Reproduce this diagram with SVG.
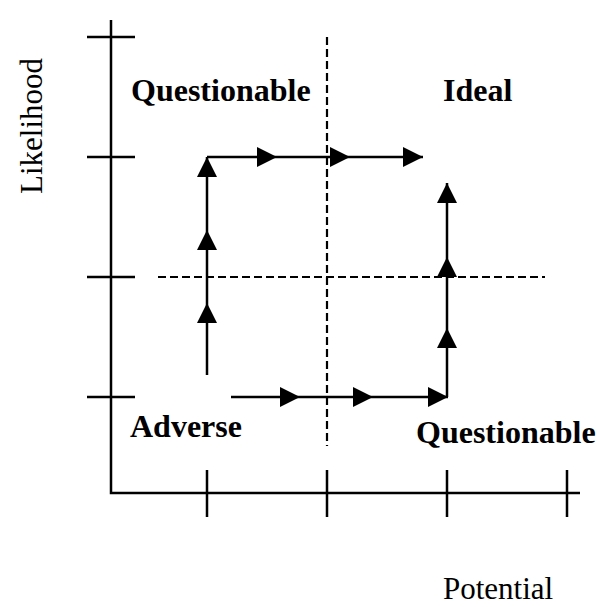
<svg xmlns="http://www.w3.org/2000/svg" width="597" height="607" viewBox="0 0 597 607">
<style>
.ax{stroke:#000;stroke-width:2.5;fill:none}
.dash{stroke:#000;stroke-width:2.2;fill:none;stroke-dasharray:8 4}
.arr{stroke:#000;stroke-width:2.5;fill:none;marker-end:url(#ah)}
.lbl{font-family:"Liberation Serif","Times New Roman",serif;font-size:32px;font-weight:bold;fill:#000}
.ttl{font-family:"Liberation Serif","Times New Roman",serif;font-size:31px;fill:#000}
</style>
<defs>
<marker id="ah" viewBox="0 0 10 10" refX="10" refY="5" markerUnits="userSpaceOnUse" markerWidth="20" markerHeight="20" orient="auto">
<path d="M0,0 L10,5 L0,10 z" fill="#000"/>
</marker>
</defs>
<rect width="597" height="607" fill="#fff"/>
<g id="axes">
<path class="ax" d="M111,20 V493 H580"/>
<path class="ax" d="M87,37 H135 M87,157 H135 M87,277 H135 M87,397 H135"/>
<path class="ax" d="M207,470 V517 M327,470 V517 M447,470 V517 M567,470 V517"/>
</g>
<g id="dividers">
<path class="dash" d="M327,37 V446"/>
<path class="dash" d="M158,277 H545"/>
</g>
<g id="q-top-left"><text class="lbl" x="131" y="101">Questionable</text></g>
<g id="ideal"><text class="lbl" x="443" y="101">Ideal</text></g>
<g id="adverse"><text class="lbl" x="130" y="437">Adverse</text></g>
<g id="q-bottom-right"><text class="lbl" x="416" y="443">Questionable</text></g>
<g id="y-title"><text class="ttl" text-anchor="middle" font-size="32" transform="translate(42,126) rotate(-90)">Likelihood</text></g>
<g id="x-title"><text class="ttl" x="443" y="599">Potential</text></g>
<g id="connectors">
<path class="arr" d="M207,375 V303"/>
<path class="arr" d="M207,303 V230"/>
<path class="arr" d="M207,230 V157"/>
<path class="arr" d="M207,157 H277"/>
<path class="arr" d="M277,157 H350"/>
<path class="arr" d="M350,157 H423"/>
<path class="arr" d="M231,397 H300"/>
<path class="arr" d="M300,397 H373"/>
<path class="arr" d="M373,397 H448"/>
<path class="arr" d="M447,397 V328"/>
<path class="arr" d="M447,328 V257"/>
<path class="arr" d="M447,257 V183"/>
</g>
</svg>
